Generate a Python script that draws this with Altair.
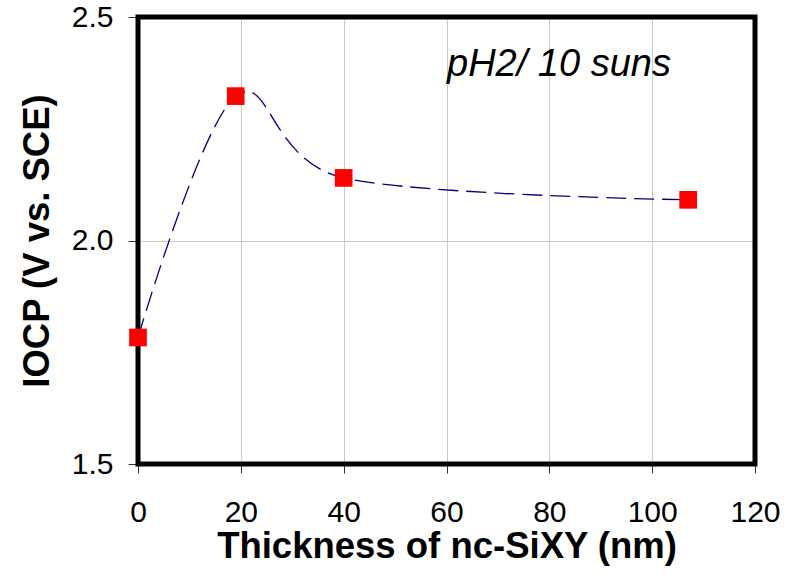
import altair as alt
import pandas as pd

thickness = [0, 19, 40, 107]
iocp = [1.783, 2.323, 2.14, 2.091]
x_ticks = [0, 20, 40, 60, 80, 100, 120]
y_ticks = [1.5, 2.0, 2.5]
annotation = "pH2/ 10 suns"

df = pd.DataFrame({"t": thickness, "v": iocp})
FONT = "Liberation Sans"
W, H = 617, 447

x_enc = alt.X("t:Q", scale=alt.Scale(domain=[0, 120], nice=False),
              axis=alt.Axis(values=x_ticks, title="Thickness of nc-SiXY (nm)",
                            titleY=93, titleBaseline="alphabetic", labelFlush=False))
y_enc = alt.Y("v:Q", scale=alt.Scale(domain=[1.5, 2.5], nice=False),
              axis=alt.Axis(values=y_ticks, format=".1f", title="IOCP (V vs. SCE)",
                            titleX=-90, titleBaseline="alphabetic", titleAngle=-90,
                            labelFlush=False))

frame = alt.Chart(pd.DataFrame({"k": [0]})).mark_rect(
    fillOpacity=0, stroke="black", strokeWidth=5
).encode(x=alt.value(0), x2=alt.value(W), y=alt.value(0), y2=alt.value(H))

line = alt.Chart(df).mark_line(
    interpolate="cardinal", tension=0, color="#000080", strokeWidth=1.3,
    strokeDash=[20, 8]
).encode(x=x_enc, y=y_enc)

pts = alt.Chart(df).mark_point(
    shape="square", size=313, filled=True, color="#ff0000", opacity=1
).encode(x="t:Q", y="v:Q")

txt = alt.Chart(pd.DataFrame({"label": [annotation]})).mark_text(
    align="left", baseline="alphabetic", font=FONT, fontSize=38, fontStyle="italic",
    color="black"
).encode(x=alt.value(309), y=alt.value(59), text="label:N")

chart = alt.layer(line, frame, pts, txt).properties(
    width=W, height=H,
    padding={"left": 138, "top": 17, "right": 40, "bottom": 115},
    autosize=alt.AutoSizeParams(type="none"),
).configure_view(
    strokeWidth=0
).configure_axis(
    domain=False, grid=True, gridColor="#c8c8c8", gridWidth=1,
    tickColor="#333333", tickSize=9, tickWidth=1,
    labelFont=FONT, labelFontSize=30, labelColor="black",
    titleFont=FONT, titleFontSize=36.5, titleFontWeight="bold", titleColor="black",
).configure_axisX(
    labelPadding=24
).configure_axisY(
    labelPadding=15, tickSize=10
)

chart.save("out.html", embed_options={"renderer": "svg", "actions": False})
